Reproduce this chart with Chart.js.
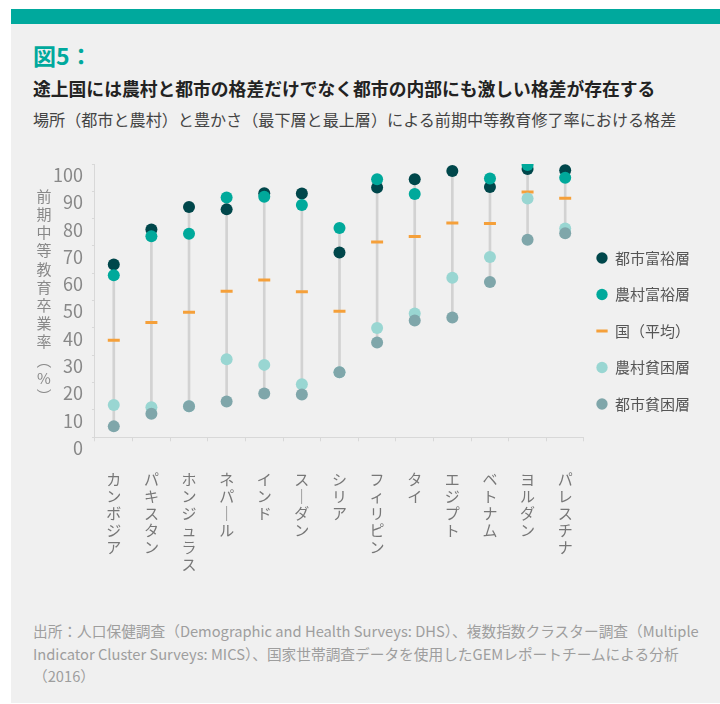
<!DOCTYPE html>
<html lang="ja">
<head>
<meta charset="utf-8">
<title>図5</title>
<script src="https://cdn.jsdelivr.net/npm/chart.js@4.4.1/dist/chart.umd.min.js"></script>
<style>
    html, body { margin: 0; padding: 0; background: #fff; }
    body { width: 720px; height: 704px; position: relative; overflow: hidden; font-family: 'Noto Sans CJK JP', sans-serif; }
    .bar { position: absolute; left: 11px; top: 9px; width: 709px; height: 15px; background: #00a99d; }
    .panel { position: absolute; left: 11px; top: 24px; width: 709px; height: 679px; background: #f0f0f0; }
    .txt { position: absolute; left: 33px; white-space: nowrap; }
    .fig { top: 43px; font-size: 23px; line-height: 24px; font-weight: 700; color: #00a99d; }
    .head { top: 78px; font-size: 17.8px; line-height: 20px; font-weight: 700; color: #222; }
    .sub { top: 109px; font-size: 16.1px; line-height: 20px; color: #444; }
    .note { top: 620px; font-size: 14.7px; line-height: 22.5px; color: #9e9e9e; }
    canvas { position: absolute; left: 0; top: 0; }
</style>
</head>
<body>
<div class="bar"></div>
<div class="panel"></div>
<div class="txt fig">図5：</div>
<div class="txt head">途上国には農村と都市の格差だけでなく都市の内部にも激しい格差が存在する</div>
<div class="txt sub">場所（都市と農村）と豊かさ（最下層と最上層）による前期中等教育修了率における格差</div>
<div class="txt note">出所：人口保健調査（Demographic and Health Surveys: DHS）、複数指数クラスター調査（Multiple<br>Indicator Cluster Surveys: MICS）、国家世帯調査データを使用したGEMレポートチームによる分析<br>（2016）</div>
<canvas id="chart" width="720" height="704"></canvas>
<script>
const countries = ['カンボジア', 'パキスタン', 'ホンジュラス', 'ネパール', 'インド', 'スーダン', 'シリア', 'フィリピン', 'タイ', 'エジプト', 'ベトナム', 'ヨルダン', 'パレスチナ'];

const urbanRich = [63.2, 76.0, 84.3, 83.4, 89.3, 89.2, 67.6, 91.4, 94.4, 97.4, 91.6, 98.2, 97.7];
const ruralRich = [59.3, 73.6, 74.5, 87.7, 88.0, 85.0, 76.6, 94.4, 89.0, null, 94.7, 99.6, 95.0];
const average = [35.5, 42.0, 45.8, 53.4, 57.6, 53.3, 46.1, 71.5, 73.5, 78.4, 78.2, 89.8, 87.5];
const ruralPoor = [11.8, 11.0, 11.4, 28.6, 26.5, 19.4, 23.8, 40.0, 45.3, 58.4, 66.0, 87.4, 76.4];
const urbanPoor = [4.0, 8.6, 11.4, 13.1, 16.0, 15.7, 23.8, 34.7, 42.7, 43.8, 56.8, 72.3, 74.7];

const yTitle = ['前', '期', '中', '等', '教', '育', '卒', '業', '率', '︵', '%', '︶'];

// grey line from lowest to highest value of each country
const ranges = countries.map((c, i) => {
    const vals = [urbanRich[i], ruralRich[i], average[i], ruralPoor[i], urbanPoor[i]].filter(v => v !== null);
    return [Math.min(...vals), Math.max(...vals)];
});

const dots = (label, data, color) => ({
    type: 'line',
    label,
    data,
    showLine: false,
    pointStyle: 'circle',
    pointRadius: 6,
    pointHoverRadius: 6,
    pointBorderWidth: 0,
    pointBackgroundColor: color,
    pointBorderColor: color,
    backgroundColor: color,
    borderColor: color
});

// vertical axis title, upright characters
const verticalTitle = {
    id: 'verticalTitle',
    afterDraw(chart) {
        const ctx = chart.ctx;
        ctx.save();
        ctx.font = "15px 'Noto Sans CJK JP'";
        ctx.fillStyle = '#888';
        ctx.textAlign = 'center';
        ctx.textBaseline = 'middle';
        yTitle.forEach((ch, i) => {
            ctx.fillText(ch, 44, 196 + i * 18.2);
        });
        ctx.restore();
    }
};

Chart.defaults.font.family = "'Noto Sans CJK JP', sans-serif";

const defaultLabels = Chart.defaults.plugins.legend.labels.generateLabels;

new Chart(document.getElementById('chart').getContext('2d'), {
    type: 'bar',
    data: {
        labels: countries,
        datasets: [
            // first dataset is drawn on top
            dots('都市貧困層', urbanPoor, '#7fa6aa'),
            dots('農村貧困層', ruralPoor, '#99d6d2'),
            {
                type: 'line',
                label: '国（平均）',
                data: average,
                showLine: false,
                pointStyle: 'line',
                pointRadius: 6,
                pointHoverRadius: 6,
                pointBorderWidth: 3,
                pointBorderColor: '#f5a03a',
                pointBackgroundColor: '#f5a03a',
                borderColor: '#f5a03a',
                backgroundColor: '#f5a03a'
            },
            dots('農村富裕層', ruralRich, '#00a99b'),
            dots('都市富裕層', urbanRich, '#00474b'),
            {
                type: 'bar',
                label: 'range',
                data: ranges,
                backgroundColor: '#d2d2d2',
                barThickness: 2
            }
        ]
    },
    options: {
        responsive: false,
        animation: false,
        layout: {
            padding: { top: 164, left: 44, right: 20, bottom: 101 }
        },
        scales: {
            x: {
                grid: { drawOnChartArea: false, tickLength: 4, color: '#d8d8d8' },
                border: { color: '#d8d8d8' },
                ticks: {
                    color: '#777',
                    padding: 30,
                    maxRotation: 0,
                    autoSkip: false,
                    font: { size: 15, lineHeight: 1.13 },
                    callback: function (value) {
                        const name = this.getLabelForValue(value);
                        return Array.from(name).map(ch => ch === 'ー' ? '｜' : ch);
                    }
                }
            },
            y: {
                min: 0,
                max: 100,
                grid: { drawOnChartArea: false, tickLength: 3, color: '#d8d8d8' },
                border: { color: '#d8d8d8' },
                ticks: {
                    stepSize: 10,
                    color: '#888',
                    padding: 9,
                    labelOffset: 11,
                    font: { size: 18 }
                }
            }
        },
        plugins: {
            tooltip: { enabled: false },
            legend: {
                position: 'right',
                align: 'start',
                reverse: true,
                title: { display: true, text: '', font: { size: 12 }, padding: { top: 0, bottom: 59.6 } },
                labels: {
                    usePointStyle: true,
                    boxWidth: 11,
                    boxHeight: 8,
                    padding: 12.5,
                    color: '#555',
                    font: { size: 15, lineHeight: 1.6 },
                    // text as a one-line array so the row height follows lineHeight
                    generateLabels: chart => defaultLabels(chart).map(item => ({ ...item, text: [item.text] })),
                    filter: (item, data) => data.datasets[item.datasetIndex].type !== 'bar'
                }
            }
        }
    },
    plugins: [verticalTitle]
});
</script>
</body>
</html>
